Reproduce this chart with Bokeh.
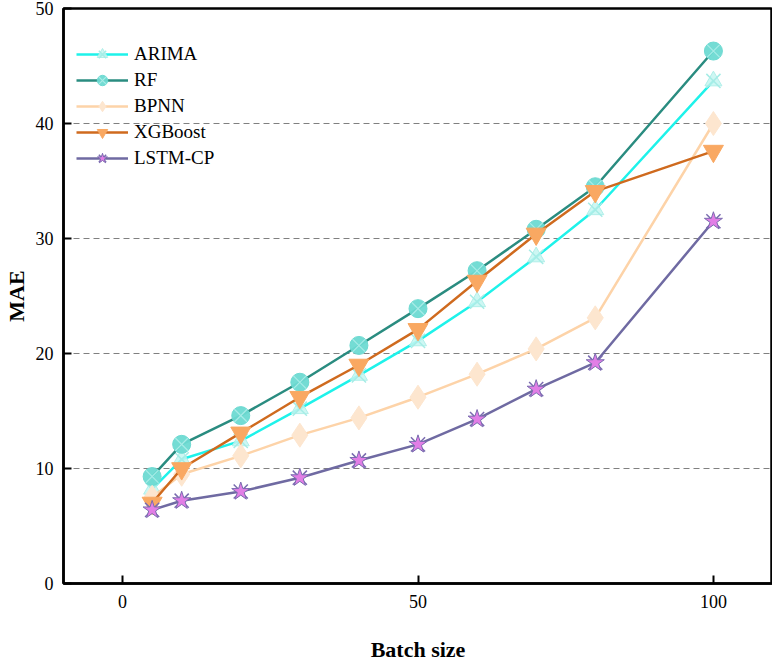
from bokeh.plotting import figure
from bokeh.models import Legend, LegendItem, Range1d, FixedTicker
from bokeh.embed import file_html
from bokeh.resources import INLINE

batch = [5, 10, 20, 30, 40, 50, 60, 70, 80, 100]
arima = [8.2, 10.8, 12.4, 15.2, 18.1, 21.1, 24.5, 28.4, 32.5, 43.7]
rf = [9.3, 12.1, 14.6, 17.5, 20.7, 23.9, 27.2, 30.8, 34.5, 46.3]
bpnn = [7.5, 9.5, 11.1, 12.9, 14.4, 16.2, 18.2, 20.4, 23.1, 40.0]
xgb = [7.0, 10.0, 13.1, 16.2, 19.0, 22.1, 26.3, 30.4, 34.1, 37.6]
lstm = [6.4, 7.2, 8.0, 9.2, 10.7, 12.1, 14.3, 16.9, 19.2, 31.5]
x_ticks = [0, 50, 100]
y_ticks = [0, 10, 20, 30, 40, 50]

FONT = "Liberation Serif"

p = figure(width=772, height=664, output_backend="svg", toolbar_location=None,
           x_range=Range1d(-10, 110), y_range=Range1d(0, 50),
           min_border_left=56, min_border_right=0, min_border_top=8, min_border_bottom=81)
p.outline_line_color = "black"
p.outline_line_width = 2.5
p.background_fill_color = "white"
p.border_fill_color = "white"

p.xgrid.visible = False
p.ygrid.grid_line_color = "#808080"
p.ygrid.grid_line_dash = "6 4"
p.ygrid.grid_line_width = 1.2
p.ygrid.ticker = FixedTicker(ticks=[10, 20, 30, 40])

for ax in (p.xaxis[0], p.yaxis[0]):
    ax.axis_line_width = 2.5
    ax.axis_line_color = "black"
    ax.major_tick_in = 8
    ax.major_tick_out = 0
    ax.major_tick_line_width = 2
    ax.minor_tick_line_color = None
    ax.major_label_text_font = FONT
    ax.major_label_text_font_size = "18px"
    ax.major_label_text_color = "black"
    ax.axis_label_text_font = FONT
    ax.axis_label_text_font_style = "bold"
    ax.axis_label_text_font_size = "22px"
    ax.axis_label_text_color = "black"

p.xaxis.ticker = FixedTicker(ticks=x_ticks)
p.yaxis.ticker = FixedTicker(ticks=y_ticks)
p.xaxis.axis_label = "Batch size"
p.yaxis.axis_label = "MAE"
p.xaxis.major_label_standoff = 11
p.xaxis.axis_label_standoff = 26
p.yaxis.major_label_standoff = 10
p.yaxis.axis_label_standoff = 4

items = []

# ARIMA
l1 = p.line(batch, arima, line_color="#1ef2ea", line_width=2.5)
m1a = p.scatter(batch, arima, marker="triangle", size=17, fill_color="#c4f6f1",
                line_color="#b0efe9", fill_alpha=0.85)
m1b = p.scatter(batch, arima, marker="x", size=20, line_color="#a6ece6", line_width=1.5)
items.append(LegendItem(label="ARIMA", renderers=[l1, m1a, m1b]))

# RF
l2 = p.line(batch, rf, line_color="#2a8c80", line_width=2.5)
m2a = p.scatter(batch, rf, marker="circle", size=18, fill_color="#6ddad2",
                line_color="#6ddad2", fill_alpha=0.95)
m2b = p.scatter(batch, rf, marker="x", size=18, line_color="#a8ece7", line_width=1.2)
items.append(LegendItem(label="RF", renderers=[l2, m2a, m2b]))

# BPNN
l3 = p.line(batch, bpnn, line_color="#fdd3a8", line_width=2.5)
m3 = p.scatter(batch, bpnn, marker="diamond", size=24, fill_color="#fde6cf",
               line_color="#fde6cf")
items.append(LegendItem(label="BPNN", renderers=[l3, m3]))

# XGBoost
l4 = p.line(batch, xgb, line_color="#cf6a1e", line_width=2.5)
m4 = p.scatter(batch, xgb, marker="inverted_triangle", size=20, fill_color="#f9a862",
               line_color="#f9a862")
items.append(LegendItem(label="XGBoost", renderers=[l4, m4]))

# LSTM-CP
l5 = p.line(batch, lstm, line_color="#6f6aa2", line_width=2.5)
m5b = p.scatter(batch, lstm, marker="x", size=20, line_color="#7a6cb0", line_width=1.5)
m5a = p.scatter(batch, lstm, marker="star", size=19, fill_color="#e27ee6",
                line_color="#7a6cb0", line_width=1)
items.append(LegendItem(label="LSTM-CP", renderers=[l5, m5b, m5a]))

legend = Legend(items=items, location=(13, 412), orientation="vertical")
legend.border_line_color = None
legend.background_fill_alpha = 0
legend.label_text_font = FONT
legend.label_text_font_size = "19px"
legend.label_text_color = "black"
legend.glyph_width = 52
legend.glyph_height = 26
legend.label_height = 26
legend.spacing = 0
legend.padding = 5
legend.label_standoff = 6
p.add_layout(legend, "center")

open("out.html", "w").write(file_html(p, INLINE))
